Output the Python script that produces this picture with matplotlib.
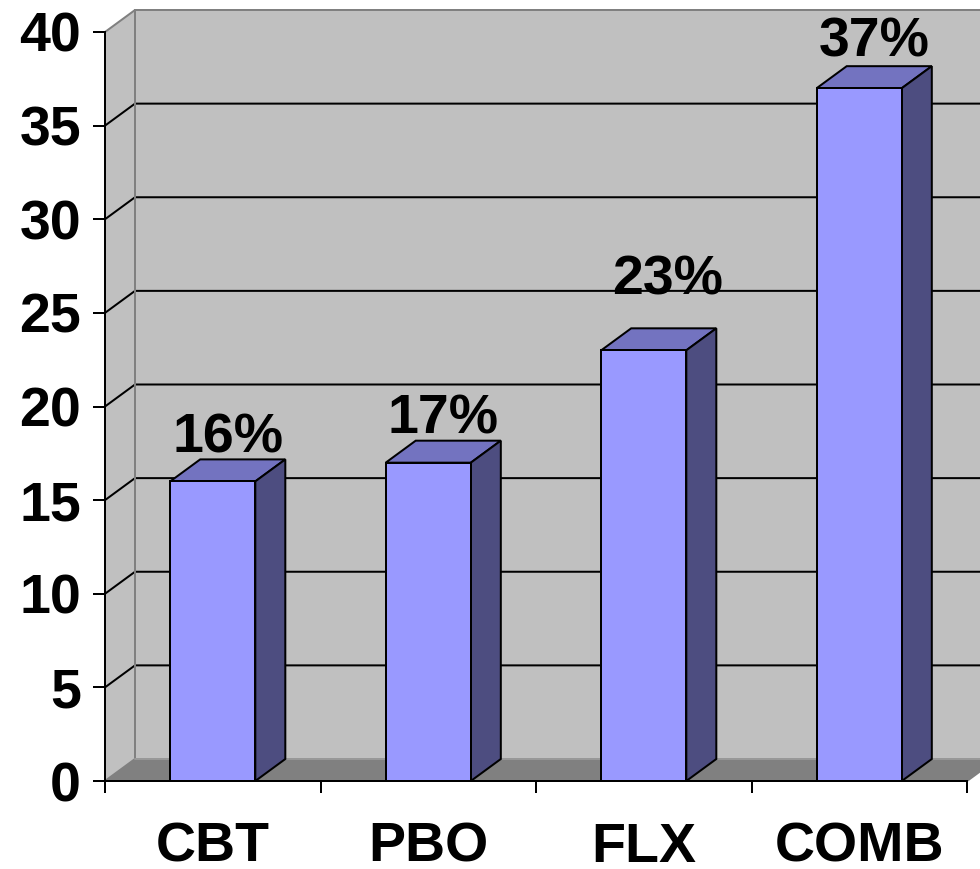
# plot.py
import matplotlib
matplotlib.use('Agg')
import matplotlib.pyplot as plt
import matplotlib.transforms as mtransforms
from matplotlib.patches import Polygon
import numpy as np

categories = ['CBT', 'PBO', 'FLX', 'COMB']
values = [16, 17, 23, 37]
labels = ['16%', '17%', '23%', '37%']
yticks = [0, 5, 10, 15, 20, 25, 30, 35, 40]

DX, DY = 30, 22          # depth of the 3d effect, pixels
DPI = 100
PX = 72.0 / DPI          # one pixel in points

plt.rcParams['font.family'] = ['Liberation Sans', 'DejaVu Sans']
plt.rcParams['font.weight'] = 'bold'

fig = plt.figure(figsize=(9.8, 8.69), dpi=DPI)
ax = fig.add_axes([105 / 980, 88 / 869, 862 / 980, 749 / 869])
ax.set_xlim(-0.5, 3.5)
ax.set_ylim(0, 40)
ax.patch.set_visible(False)
fig.canvas.draw()

ident = mtransforms.IdentityTransform()


def disp(x, y, back=False):
    px, py = ax.transData.transform((x, y))
    if back:
        px += DX
        py += DY
    return (px, py)


def face(pts, color, zorder, ec='black', lw=2):
    ax.add_patch(Polygon(pts, closed=True, facecolor=color, edgecolor=ec,
                         linewidth=lw * PX, transform=ident, clip_on=False,
                         zorder=zorder, joinstyle='miter'))


x0, x1, xfar = -0.5, 3.5, 4.2
top = yticks[-1]

# walls and floor
face([disp(x0, 0), disp(x0, top), disp(x0, top, True), disp(x0, 0, True)],
     '#c0c0c0', 0.5, ec='none')
face([disp(x0, 0, True), disp(x0, top, True), disp(xfar, top, True), disp(xfar, 0, True)],
     '#c0c0c0', 0.5, ec='none')
face([disp(x0, 0), disp(x1, 0), disp(x1, 0, True), disp(x0, 0, True)],
     '#808080', 1.2, ec='#808080')

# gridlines on side and back walls
for t in yticks[1:-1]:
    pts = np.array([disp(x0, t), disp(x0, t, True), disp(xfar, t, True)])
    ax.plot(pts[:, 0], pts[:, 1], color='black', lw=2 * PX, transform=ident,
            clip_on=False, zorder=1)

# wall edges
edge = np.array([disp(x0, top), disp(x0, top, True), disp(xfar, top, True)])
ax.plot(edge[:, 0], edge[:, 1], color='#808080', lw=2 * PX, transform=ident,
        clip_on=False, zorder=1)
edge = np.array([disp(x0, 0, True), disp(x0, top, True)])
ax.plot(edge[:, 0], edge[:, 1], color='#808080', lw=2 * PX, transform=ident,
        clip_on=False, zorder=1.1)
edge = np.array([disp(x0, 0, True), disp(xfar, 0, True)])
ax.plot(edge[:, 0], edge[:, 1], color='#a0a0a0', lw=1.5 * PX, transform=ident,
        clip_on=False, zorder=1.3)

# bars
xs = np.arange(len(categories))
w = 0.395
ax.bar(xs, values, w, color='#9999ff', edgecolor='black', linewidth=2 * PX,
       zorder=4, clip_on=False)

# extra nudge (pixels) for some value labels
label_shift = [(0, 0), (0, 0), (9, 27), (0, 3)]
for x, v, lab, (sx, sy) in zip(xs, values, labels, label_shift):
    l, r = x - w / 2, x + w / 2
    face([disp(l, v), disp(r, v), disp(r, v, True), disp(l, v, True)], '#7373c0', 3)
    face([disp(r, 0), disp(r, v), disp(r, v, True), disp(r, 0, True)], '#4d4d80', 3)
    ax.annotate(lab, xy=(x, v), xytext=(DX / 2 + sx, DY + 7 + sy),
                textcoords='offset pixels', ha='center', va='baseline',
                fontsize=40, fontweight='bold', zorder=5)

# axes
for s in ['top', 'right']:
    ax.spines[s].set_visible(False)
for s in ['left', 'bottom']:
    ax.spines[s].set_linewidth(2 * PX)
    ax.spines[s].set_zorder(2)
ax.set_yticks(yticks)
ax.set_xticks(np.arange(-0.5, len(categories), 1.0))
ax.set_xticklabels([])
ax.set_xticks(xs, categories, minor=True)
ax.tick_params(axis='y', direction='out', length=12 * PX, width=2 * PX,
               pad=12 * PX, labelsize=40)
ax.tick_params(axis='x', which='major', direction='out', length=12 * PX, width=2 * PX)
ax.tick_params(axis='x', which='minor', length=0, pad=29.5, labelsize=40)

fig.savefig('out.png', dpi=DPI)
